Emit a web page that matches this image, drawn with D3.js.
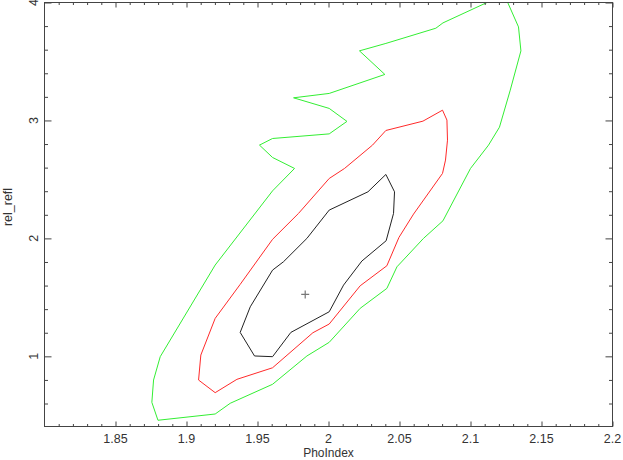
<!DOCTYPE html>
<html><head><meta charset="utf-8">
<script src="https://cdn.jsdelivr.net/npm/d3@7"></script>
<style>body{margin:0;background:#fff}svg{display:block}text{font-family:"Liberation Sans",Arial,sans-serif;fill:#333}</style>
</head><body>
<script>
// Axis tick values
const xTicks = [1.85, 1.9, 1.95, 2, 2.05, 2.1, 2.15, 2.2];
const xTickLabels = ["1.85", "1.9", "1.95", "2", "2.05", "2.1", "2.15", "2.2"];
const yTicks = [1, 2, 3, 4];
const yTickLabels = ["1", "2", "3", "4"];
const xLabel = "PhoIndex";
const yLabel = "rel_refl";

// Best fit
const bestFit = [1.9836, 1.525];

// Green contour (outer)
const greenX = [2.117, 2.1251, 2.1338, 2.1355, 2.1280, 2.1204, 2.1127, 2.1000, 2.0806, 2.0669, 2.0482, 2.0411, 2.0223, 2.0005, 1.9848, 1.9606, 1.9308, 1.9202, 1.8799, 1.8756, 1.8768, 1.8815, 1.9202, 1.9606, 1.9761, 1.9606, 1.9514, 1.9606, 2.0005, 2.0130, 2.0005, 1.9754, 2.0005, 2.0397, 2.0218, 2.0404, 2.0756, 2.0806, 2.117];
const greenY = [4.03, 4.03, 3.793, 3.590, 3.257, 2.943, 2.791, 2.593, 2.149, 2.000, 1.759, 1.576, 1.407, 1.119, 1.003, 0.763, 0.602, 0.511, 0.458, 0.610, 0.799, 0.997, 1.774, 2.403, 2.593, 2.686, 2.791, 2.847, 2.886, 2.992, 3.102, 3.192, 3.229, 3.390, 3.590, 3.653, 3.782, 3.827, 4.03];

// Red contour (middle)
const redX = [2.0404, 2.0665, 2.0803, 2.0834, 2.0838, 2.0824, 2.0803, 2.0599, 2.0496, 2.0411, 2.0223, 2.0005, 1.9890, 1.9606, 1.9355, 1.9202, 1.9085, 1.9101, 1.9202, 1.9378, 1.9606, 1.9789, 2.0005, 2.0113, 2.0310];
const redY = [2.915, 2.994, 3.087, 3.003, 2.833, 2.664, 2.551, 2.206, 2.008, 1.768, 1.598, 1.274, 1.200, 0.903, 0.805, 0.692, 0.799, 1.011, 1.322, 1.610, 1.992, 2.212, 2.508, 2.593, 2.791];

// Black contour (inner)
const blackX = [2.0404, 2.0465, 2.0458, 2.0406, 2.0235, 2.0106, 2.0005, 1.9735, 1.9606, 1.9479, 1.9378, 1.9449, 1.9606, 1.9683, 1.9848, 2.0005, 2.0278];
const blackY = [2.542, 2.395, 2.212, 1.980, 1.808, 1.604, 1.378, 1.203, 0.997, 1.003, 1.203, 1.420, 1.731, 1.802, 2.000, 2.240, 2.395];

const W = 623, H = 460;
const L = 44.5, R = 612.5, T = 2.5, B = 426.5;

const svg = d3.select("body").append("svg").attr("width", W).attr("height", H);
const x = d3.scaleLinear().domain([1.8, 2.2]).range([L, R]);
const y = d3.scaleLinear().domain([0.4, 4]).range([B + 0.6, T]);

svg.append("defs").append("clipPath").attr("id", "clip")
  .append("rect").attr("x", L).attr("y", T).attr("width", R - L).attr("height", B - T);

const contours = [
  {xs: greenX, ys: greenY, color: "#33ee33"},
  {xs: redX, ys: redY, color: "#ff2a2a"},
  {xs: blackX, ys: blackY, color: "#222"}
];
const line = d3.line().x(d => x(d[0])).y(d => y(d[1])).curve(d3.curveLinearClosed);
const g = svg.append("g").attr("clip-path", "url(#clip)");
contours.forEach(c => {
  const pts = c.xs.map((v, i) => [v, c.ys[i]]);
  g.append("path").attr("d", line(pts)).attr("fill", "none")
    .attr("stroke", c.color).attr("stroke-width", 1);
});

// best fit cross
const bx = x(bestFit[0]), by = y(bestFit[1]);
svg.append("path").attr("d", `M${bx-4},${by}H${bx+4}M${bx},${by-4}V${by+4}`)
  .attr("stroke", "#777").attr("stroke-width", 1.2);

// frame
const axisColor = "#444";
svg.append("rect").attr("x", L).attr("y", T).attr("width", R - L).attr("height", B - T)
  .attr("fill", "none").attr("stroke", axisColor).attr("stroke-width", 1);

const xMinor = d3.range(1.81, 2.2, 0.01).map(v => +v.toFixed(2)).filter(v => !xTicks.some(t => Math.abs(t - v) < 1e-6));
const yMinor = d3.range(0.4, 4.0, 0.2).map(v => +v.toFixed(1)).filter(v => !yTicks.some(t => Math.abs(t - v) < 1e-6) && v > 0.45);

function styleAxis(sel) {
  sel.select(".domain").remove();
  sel.selectAll("line").attr("stroke", axisColor);
  sel.selectAll("text").remove();
}
// bottom
svg.append("g").attr("transform", `translate(0,${B})`).call(d3.axisBottom(x).tickValues(xTicks).tickSize(-5)).call(styleAxis);
svg.append("g").attr("transform", `translate(0,${B})`).call(d3.axisBottom(x).tickValues(xMinor).tickSize(-2.5)).call(styleAxis);
// top
svg.append("g").attr("transform", `translate(0,${T})`).call(d3.axisTop(x).tickValues(xTicks).tickSize(-5)).call(styleAxis);
svg.append("g").attr("transform", `translate(0,${T})`).call(d3.axisTop(x).tickValues(xMinor).tickSize(-2.5)).call(styleAxis);
// left
svg.append("g").attr("transform", `translate(${L},0)`).call(d3.axisLeft(y).tickValues(yTicks).tickSize(-7)).call(styleAxis);
svg.append("g").attr("transform", `translate(${L},0)`).call(d3.axisLeft(y).tickValues(yMinor).tickSize(-3.5)).call(styleAxis);
// right
svg.append("g").attr("transform", `translate(${R},0)`).call(d3.axisRight(y).tickValues(yTicks).tickSize(-7)).call(styleAxis);
svg.append("g").attr("transform", `translate(${R},0)`).call(d3.axisRight(y).tickValues(yMinor).tickSize(-3.5)).call(styleAxis);

// tick labels
svg.append("g").selectAll("text").data(xTicks).join("text")
  .attr("x", d => x(d)).attr("y", 443).attr("text-anchor", "middle")
  .attr("font-size", 12.5).text((d, i) => xTickLabels[i]);
svg.append("g").selectAll("text").data(yTicks).join("text")
  .attr("transform", d => `translate(38,${y(d)}) rotate(-90)`).attr("text-anchor", "middle")
  .attr("font-size", 12.5).text((d, i) => yTickLabels[i]);

svg.append("text").attr("x", (L + R) / 2).attr("y", 457).attr("text-anchor", "middle")
  .attr("font-size", 12).text(xLabel);
svg.append("text").attr("transform", `translate(12,207) rotate(-90)`).attr("text-anchor", "middle")
  .attr("font-size", 12.5).text(yLabel);
</script>
</body></html>
